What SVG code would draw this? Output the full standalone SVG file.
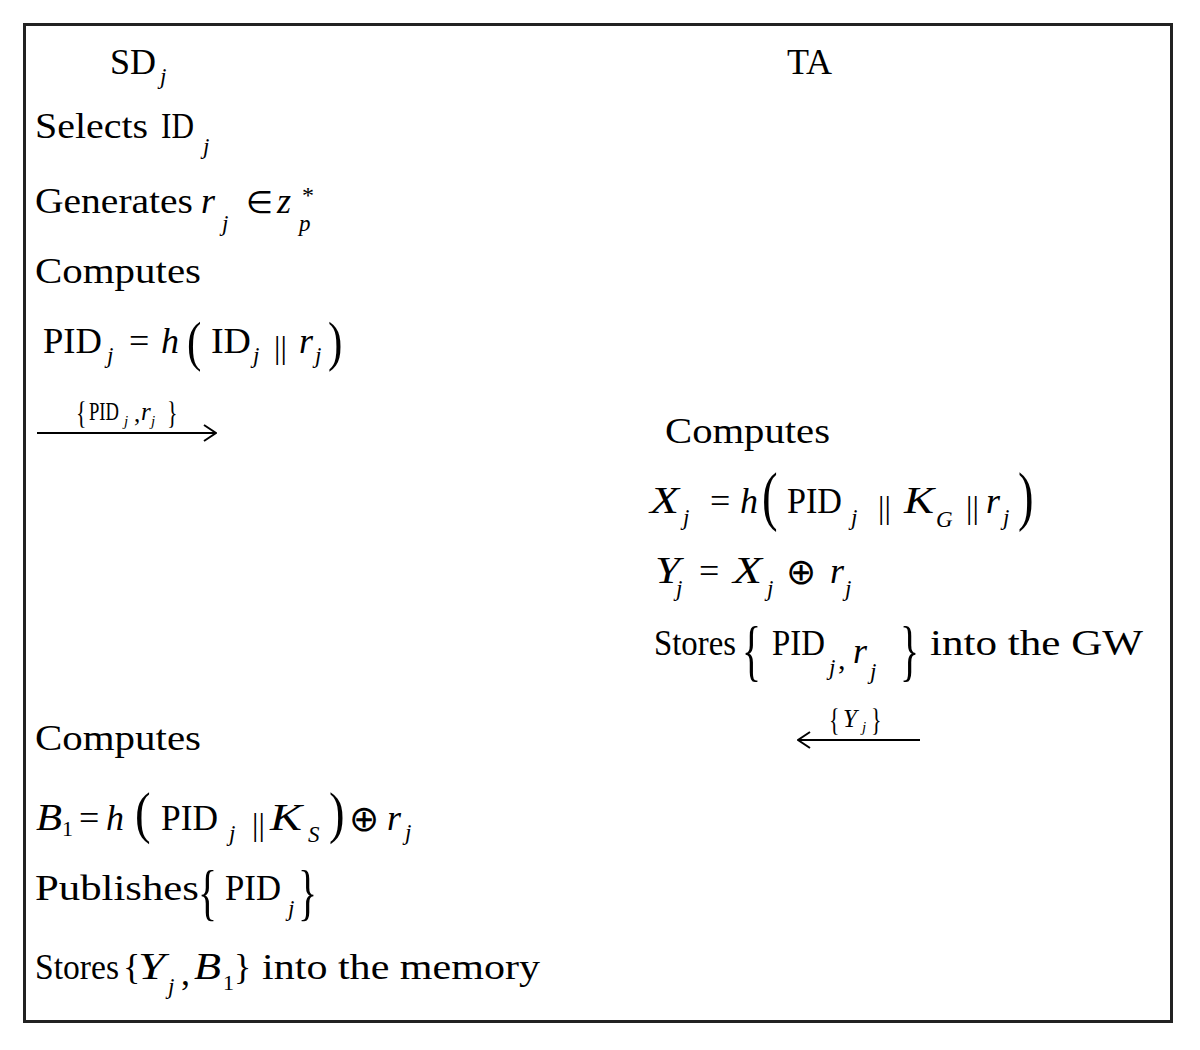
<svg xmlns="http://www.w3.org/2000/svg" width="1200" height="1050" viewBox="0 0 1200 1050">
<style>
text{font-family:"Liberation Serif","Times New Roman",serif;font-size:36px;fill:#000}
.i{font-style:italic}
.m{font-style:italic;font-size:38px}
.s{font-size:23px;font-style:italic}
.n{font-size:22px}
.bar{font-size:32px}
.op{font-size:36px}
.lbl{font-size:25px}
.lbb{font-size:22px}
.lbs{font-size:15px;font-style:italic}
.conn{stroke:#000;stroke-width:2;fill:none}
</style>
<defs>
<marker id="ah" viewBox="0 0 14 18" refX="13" refY="9" markerWidth="14" markerHeight="18" markerUnits="userSpaceOnUse" orient="auto">
<path d="M1,1 L13,9 L1,17" fill="none" stroke="#000" stroke-width="2"/>
</marker>
</defs>
<rect id="frame" x="24.5" y="24.5" width="1147" height="997" fill="#fff" stroke="#222" stroke-width="3"/>

<g id="sd-header">
<text x="110" y="74">SD</text>
<text class="s" x="160" y="84">j</text>
</g>
<g id="ta-header">
<text x="787" y="74">TA</text>
</g>

<g id="sd-select">
<text x="35" y="138" textLength="113" lengthAdjust="spacingAndGlyphs">Selects</text>
<text x="161" y="138" textLength="33" lengthAdjust="spacingAndGlyphs">ID</text>
<text class="s" x="203" y="154">j</text>
</g>

<g id="sd-generate">
<text x="35" y="213" textLength="158" lengthAdjust="spacingAndGlyphs">Generates</text>
<text class="i" x="201" y="213">r</text>
<text class="s" x="222" y="231">j</text>
<text x="246" y="213" style="font-size:31px">∈</text>
<text class="i" x="277" y="213">z</text>
<text x="302" y="203" style="font-size:24px">*</text>
<text class="s" x="299" y="231">p</text>
</g>

<g id="sd-compute1">
<text x="35" y="283" textLength="166" lengthAdjust="spacingAndGlyphs">Computes</text>
<text x="43" y="353" textLength="59" lengthAdjust="spacingAndGlyphs">PID</text>
<text class="s" x="107" y="363">j</text>
<text x="129" y="353">=</text>
<text class="i" x="161" y="353">h</text>
<text transform="translate(187 360) scale(1.2 1.55)">(</text>
<text x="211" y="353" textLength="40" lengthAdjust="spacingAndGlyphs">ID</text>
<text class="s" x="253" y="363">j</text>
<text class="bar" x="274" y="358">||</text>
<text class="i" x="299" y="353">r</text>
<text class="s" x="315" y="363">j</text>
<text transform="translate(328 360) scale(1.2 1.55)">)</text>
</g>

<g id="ta-compute">
<text x="665" y="443" textLength="165" lengthAdjust="spacingAndGlyphs">Computes</text>
<text class="m" x="650" y="513" textLength="29" lengthAdjust="spacingAndGlyphs">X</text>
<text class="s" x="683" y="525">j</text>
<text x="710" y="513">=</text>
<text class="i" x="740" y="513">h</text>
<text transform="translate(762 518) scale(1.3 1.8)">(</text>
<text x="787" y="513" textLength="55" lengthAdjust="spacingAndGlyphs">PID</text>
<text class="s" x="851" y="525">j</text>
<text class="bar" x="878" y="518">||</text>
<text class="m" x="904" y="513" textLength="30" lengthAdjust="spacingAndGlyphs">K</text>
<text class="s" x="936" y="527">G</text>
<text class="bar" x="966" y="518">||</text>
<text class="i" x="986" y="513">r</text>
<text class="s" x="1003" y="525">j</text>
<text transform="translate(1018 518) scale(1.3 1.8)">)</text>

<text class="m" x="655" y="583" textLength="25" lengthAdjust="spacingAndGlyphs">Y</text>
<text class="s" x="676" y="596">j</text>
<text x="699" y="583">=</text>
<text class="m" x="733" y="583" textLength="29" lengthAdjust="spacingAndGlyphs">X</text>
<text class="s" x="767" y="596">j</text>
<text class="op" x="786" y="584">⊕</text>
<text class="i" x="830" y="583">r</text>
<text class="s" x="845" y="596">j</text>

<text x="654" y="655" textLength="82" lengthAdjust="spacingAndGlyphs">Stores</text>
<text transform="translate(742 673) scale(1.1 1.85)">{</text>
<text x="772" y="655" textLength="53" lengthAdjust="spacingAndGlyphs">PID</text>
<text class="s" x="829" y="675">j</text>
<text x="838" y="669" style="font-size:30px">,</text>
<text class="i" x="853" y="663">r</text>
<text class="s" x="870" y="679">j</text>
<text transform="translate(900 673) scale(1.1 1.85)">}</text>
<text x="930" y="655" textLength="213" lengthAdjust="spacingAndGlyphs">into the GW</text>
</g>

<g id="sd-compute2">
<text x="35" y="750" textLength="166" lengthAdjust="spacingAndGlyphs">Computes</text>
<text class="m" x="36" y="830" textLength="26" lengthAdjust="spacingAndGlyphs">B</text>
<text class="n" x="62" y="836">1</text>
<text x="79" y="830">=</text>
<text class="i" x="106" y="830">h</text>
<text transform="translate(135 832) scale(1.3 1.6)">(</text>
<text x="161" y="830" textLength="57" lengthAdjust="spacingAndGlyphs">PID</text>
<text class="s" x="229" y="841">j</text>
<text class="bar" x="252" y="835">||</text>
<text class="m" x="270" y="830" textLength="32" lengthAdjust="spacingAndGlyphs">K</text>
<text class="s" x="308" y="842">S</text>
<text transform="translate(329 832) scale(1.3 1.6)">)</text>
<text class="op" x="349" y="831">⊕</text>
<text class="i" x="387" y="830">r</text>
<text class="s" x="405" y="840">j</text>
</g>

<g id="sd-publish">
<text x="35" y="900" textLength="164" lengthAdjust="spacingAndGlyphs">Publishes</text>
<text transform="translate(198 913) scale(1.1 1.7)">{</text>
<text x="225" y="900" textLength="56" lengthAdjust="spacingAndGlyphs">PID</text>
<text class="s" x="288" y="916">j</text>
<text transform="translate(298 913) scale(1.1 1.7)">}</text>
</g>

<g id="sd-store">
<text x="35" y="979" textLength="84" lengthAdjust="spacingAndGlyphs">Stores</text>
<text x="123" y="979">{</text>
<text class="m" x="138" y="979" textLength="27" lengthAdjust="spacingAndGlyphs">Y</text>
<text class="s" x="168" y="994">j</text>
<text x="181" y="985">,</text>
<text class="m" x="194" y="979" textLength="27" lengthAdjust="spacingAndGlyphs">B</text>
<text class="n" x="223" y="990">1</text>
<text x="234" y="979">}</text>
<text x="262" y="979" textLength="278" lengthAdjust="spacingAndGlyphs">into the memory</text>
</g>

<g id="connectors">
<line class="conn" x1="37" y1="433" x2="216" y2="433" marker-end="url(#ah)"/>
<text class="lbb" transform="translate(76 424) scale(1 1.45)">{</text>
<text class="lbl" x="89" y="420" textLength="30" lengthAdjust="spacingAndGlyphs">PID</text>
<text class="lbs" x="124" y="426">j</text>
<text class="lbl" x="134" y="422">,</text>
<text class="lbl i" x="141" y="420">r</text>
<text class="lbs" x="151" y="426">j</text>
<text class="lbb" transform="translate(167 424) scale(1 1.45)">}</text>

<line class="conn" x1="920" y1="740" x2="798" y2="740" marker-end="url(#ah)"/>
<text class="lbb" transform="translate(829 731) scale(1 1.45)">{</text>
<text class="lbl i" x="843" y="727">Y</text>
<text class="lbs" x="862" y="732">j</text>
<text class="lbb" transform="translate(871 731) scale(1 1.45)">}</text>
</g>
</svg>
